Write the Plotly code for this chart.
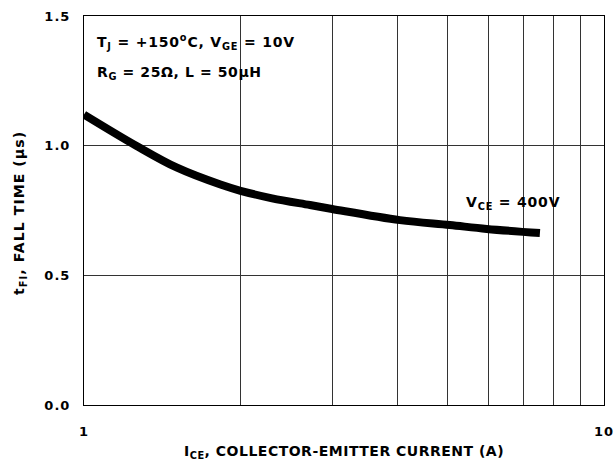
import plotly.graph_objects as go

ice = [1.0, 1.26, 1.51, 1.83, 2.0, 2.3, 2.72, 3.0, 4.05, 5.05, 5.95, 7.53]
tfi = [1.12, 1.0, 0.915, 0.85, 0.826, 0.797, 0.771, 0.756, 0.713, 0.694, 0.679, 0.663]

x_tickvals = [1, 2, 3, 4, 5, 6, 7, 8, 9, 10]
x_ticktext = ["1", "", "", "", "", "", "", "", "", "10"]
y_tickvals = [0, 0.5, 1.0, 1.5]
y_ticktext = ["0.0", "0.5", "1.0", "1.5"]

FONT = "DejaVu Sans, Arial, sans-serif"
F13 = dict(family=FONT, size=13, color="black", weight="bold")
F14 = dict(family=FONT, size=14, color="black", weight="bold")


def sp(text, px):
    return '<span style="letter-spacing:%spx">%s</span>' % (px, text)


W, H = 615, 473
L, T, R, B = 84, 16, 11, 68
plot_h = H - T - B  # 389

fig = go.Figure()
fig.add_trace(go.Scatter(x=ice, y=tfi, mode="lines",
                         line=dict(color="black", width=8, shape="spline", smoothing=1.0),
                         showlegend=False, hoverinfo="skip"))

fig.update_layout(
    width=W, height=H,
    margin=dict(l=L, r=R, t=T, b=B, autoexpand=False),
    paper_bgcolor="white", plot_bgcolor="white",
    font=F13,
    xaxis=dict(type="log", range=[0, 1], tickvals=x_tickvals,
               ticktext=[sp(t, 1) for t in x_ticktext],
               showgrid=True, gridcolor="#333", gridwidth=1,
               showline=True, linecolor="black", linewidth=1, mirror=True,
               ticks="", ticklabelstandoff=14, zeroline=False, automargin=False,
               ticklabeloverflow="allow", tickfont=F13),
    yaxis=dict(range=[0, 1.5], tickvals=y_tickvals,
               ticktext=[sp(t, 1) for t in y_ticktext],
               showgrid=True, gridcolor="#333", gridwidth=1,
               showline=True, linecolor="black", linewidth=1, mirror=True,
               ticks="", ticklabelstandoff=10, zeroline=False, automargin=False,
               ticklabeloverflow="allow", tickfont=F13),
)

fig.add_shape(type="rect", xref="paper", yref="paper", x0=0.002, x1=0.42,
              y0=1 - (93 - 16) / plot_h, y1=0.998, fillcolor="white", line=dict(width=0),
              layer="between")

# axis titles as annotations (positioned like the reference)
fig.add_annotation(xref="paper", yref="paper", x=0.5, y=-(452 - 405) / plot_h,
                   text=sp("I<sub>CE</sub>, COLLECTOR-EMITTER CURRENT (A)", 0.5),
                   showarrow=False, xanchor="center", yanchor="middle", font=F14)
fig.add_annotation(xref="paper", yref="paper", x=-(84 - 20) / 520, y=1 - (213 - 16) / plot_h,
                   text=sp("t<sub>FI</sub>, FALL TIME (μs)", 1.1), textangle=-90,
                   showarrow=False, xanchor="center", yanchor="middle", font=F14)

fig.add_annotation(xref="paper", yref="paper", x=0.022, y=1 - (42 - 16) / plot_h,
                   text=sp("T<sub>J</sub> = +150<sup>o</sup>C, V<sub>GE</sub> = 10V", 0.8),
                   showarrow=False, xanchor="left", yanchor="middle", font=F14)
fig.add_annotation(xref="paper", yref="paper", x=0.022, y=1 - (73 - 16) / plot_h,
                   text=sp("R<sub>G</sub> = 25Ω, L = 50μH", 0.6),
                   showarrow=False, xanchor="left", yanchor="middle", font=F14)
fig.add_annotation(xref="paper", yref="paper", x=(513 - 84) / 520, y=1 - (203 - 16) / plot_h,
                   text=sp("V<sub>CE</sub> = 400V", 0.8),
                   showarrow=False, xanchor="center", yanchor="middle", font=F14)

fig.write_html("out.html",
               config={"displayModeBar": False},
               post_script="document.body.style.margin='0';document.body.style.overflow='hidden';")
